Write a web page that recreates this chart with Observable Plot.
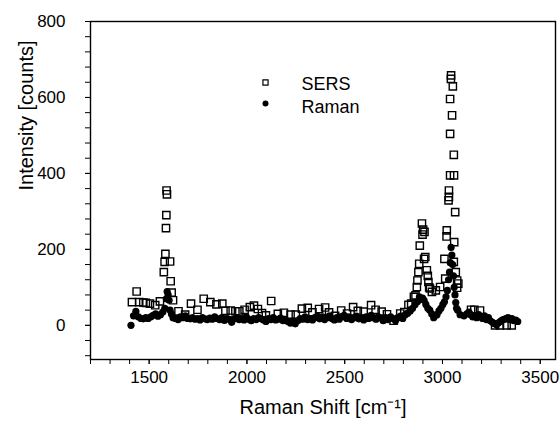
<!DOCTYPE html>
<html>
<head>
<meta charset="utf-8">
<script src="https://cdn.jsdelivr.net/npm/d3@7"></script>
<script src="https://cdn.jsdelivr.net/npm/@observablehq/plot@0.6"></script>
<style>
  html, body { margin: 0; padding: 0; background: #fff; }
  #chart svg { display: block; }
</style>
</head>
<body>
<div id="chart"></div>
<script>
// ---- data ----
const sersShift = [1412,1436,1449,1470,1483,1504,1531,1555,1575,1579,1583,1586,1588,1589,1591,1607,1610,1615,1622,1650,1684,1714,1747,1779,1813,1844,1874,1890,1917,1941,1961,1988,2015,2036,2056,2077,2097,2124,2158,2189,2223,2250,2281,2311,2335,2369,2400,2420,2451,2482,2512,2543,2567,2597,2635,2658,2689,2716,2750,2784,2805,2826,2840,2854,2862,2869,2872,2877,2881,2884,2895,2898,2901,2906,2908,2912,2920,2925,2928,2932,2936,2946,2966,2988,3010,3014,3021,3022,3031,3033,3033,3039,3059,3039,3049,3039,3053,3043,3044,3058,3060,3065,3058,3068,3075,3075,3081,3146,3163,3192,3269,3294,3328,3354];
const sersIntensity = [61,89,61,60,59,57,53,63,140,167,188,256,290,355,345,168,116,86,66,37,28,57,41,70,61,55,57,38,39,37,37,41,48,52,43,32,26,64,30,33,28,28,44,46,34,43,47,34,25,39,31,48,38,36,53,41,36,29,12,31,35,54,57,75,79,101,118,140,162,210,268,239,252,175,246,180,145,130,114,100,97,88,92,101,175,123,234,250,329,338,355,395,395,504,553,596,629,649,658,449,219,298,167,140,118,99,110,41,41,39,0,0,0,0];

const ramanShift = [1407,1420,1432,1445,1458,1470,1483,1495,1508,1520,1533,1545,1558,1570,1580,1588,1592,1597,1602,1607,1614,1622,1635,1648,1660,1672,1685,1697,1710,1722,1735,1748,1760,1772,1785,1797,1810,1822,1835,1847,1860,1872,1885,1897,1910,1922,1935,1947,1960,1972,1985,1997,2010,2022,2035,2047,2060,2072,2085,2097,2110,2122,2135,2147,2160,2172,2185,2197,2210,2222,2235,2247,2260,2272,2285,2297,2310,2322,2335,2347,2360,2372,2385,2397,2410,2422,2435,2447,2460,2472,2485,2497,2510,2522,2535,2547,2560,2572,2585,2597,2610,2622,2635,2647,2660,2672,2685,2697,2710,2722,2735,2747,2760,2772,2785,2797,2810,2822,2835,2847,2860,2872,2882,2890,2898,2906,2915,2925,2935,2945,2955,2962,2972,2982,2992,3002,3010,3018,3025,3031,3036,3040,3044,3048,3052,3056,3060,3064,3068,3072,3078,3090,3110,3125,3135,3145,3155,3165,3175,3185,3195,3205,3215,3225,3235,3245,3255,3265,3275,3285,3295,3305,3315,3325,3335,3345,3355,3365,3375,3385];
const ramanIntensity = [0,25,37,22,18,17,20,18,22,26,30,24,28,35,45,70,89,80,66,40,30,20,18,15,22,20,25,18,17,20,16,18,14,20,17,15,19,16,22,18,15,20,13,18,16,8,17,20,15,18,14,22,16,12,18,15,20,17,14,10,18,15,20,14,16,19,12,15,10,6,8,4,12,18,16,22,15,18,14,20,24,17,22,15,20,25,18,14,20,16,22,26,18,22,15,20,24,17,20,14,22,18,26,20,16,22,19,12,20,15,22,18,12,20,24,18,28,32,38,45,55,62,75,68,72,66,55,45,40,30,20,25,28,38,45,55,62,75,92,120,140,165,205,185,160,130,100,80,60,45,40,28,25,30,35,28,22,25,20,28,22,18,25,15,20,12,8,5,2,6,10,14,16,18,20,15,18,12,14,10];

const xMajorTicks = [1500, 2000, 2500, 3000, 3500];
const xMinorTicks = [1200,1300,1400,1500,1600,1700,1800,1900,2000,2100,2200,2300,2400,2500,2600,2700,2800,2900,3000,3100,3200,3300,3400,3500];
const yMajorTicks = [0, 200, 400, 600, 800];
const yMinorTicks = [-80,-40,0,40,80,120,160,200,240,280,320,360,400,440,480,520,560,600,640,680,720,760,800];

const seriesNames = ["SERS", "Raman"];
const xTitle = "Raman Shift [cm\u207B\u00B9]";
const yTitle = "Intensity [counts]";

// ---- build tables ----
const sers = sersShift.map((x, i) => ({x, y: sersIntensity[i]}));
const raman = ramanShift.map((x, i) => ({x, y: ramanIntensity[i]}));

const font = "'Liberation Sans', Arial, Helvetica, sans-serif";

const chart = Plot.plot({
  width: 560,
  height: 431,
  marginLeft: 90,
  marginRight: 5,
  marginTop: 21,
  marginBottom: 72,
  style: {fontFamily: font, color: "#000", background: "#fff", overflow: "visible"},
  x: {domain: [1200, 3578]},
  y: {domain: [-90, 800]},
  marks: [
    Plot.frame({stroke: "#000", strokeWidth: 1.4}),
    Plot.axisX({ticks: xMinorTicks, tickSize: 5, tickFormat: () => "", label: null, stroke: "#000"}),
    Plot.axisX({ticks: xMajorTicks, tickSize: 5, tickPadding: 6, tickFormat: d => String(d), label: null, fontSize: 17, fill: "#000"}),
    Plot.axisY({ticks: yMinorTicks, tickSize: 5, tickFormat: () => "", label: null, stroke: "#000"}),
    Plot.axisY({ticks: yMajorTicks, tickSize: 5, tickPadding: 20, tickFormat: d => String(d), label: null, fontSize: 17, fill: "#000"}),
    Plot.dot(sers, {x: "x", y: "y", symbol: "square", r: 4.1, stroke: "#000", strokeWidth: 1.4, fill: "none"}),
    Plot.dot(raman, {x: "x", y: "y", symbol: "circle", r: 3.6, fill: "#000", stroke: "none"}),
    // legend
    Plot.dot([seriesNames[0]], {frameAnchor: "top-left", dx: 175, dy: 61, symbol: "square", r: 2.9, stroke: "#000", strokeWidth: 1.2, fill: "none"}),
    Plot.dot([seriesNames[1]], {frameAnchor: "top-left", dx: 175, dy: 82, symbol: "circle", r: 3, fill: "#000"}),
    Plot.text([seriesNames[0]], {frameAnchor: "top-left", dx: 211, dy: 56, text: d => d, textAnchor: "start", fontSize: 18, fill: "#000"}),
    Plot.text([seriesNames[1]], {frameAnchor: "top-left", dx: 211, dy: 79, text: d => d, textAnchor: "start", fontSize: 18, fill: "#000"}),
    // axis titles
    Plot.text([xTitle], {frameAnchor: "bottom", dy: 54, text: d => d, fontSize: 20, fill: "#000"}),
    Plot.text([yTitle], {frameAnchor: "left", dx: -64, rotate: -90, text: d => d, fontSize: 20, fill: "#000"})
  ]
});

document.getElementById("chart").appendChild(chart);
</script>
</body>
</html>
